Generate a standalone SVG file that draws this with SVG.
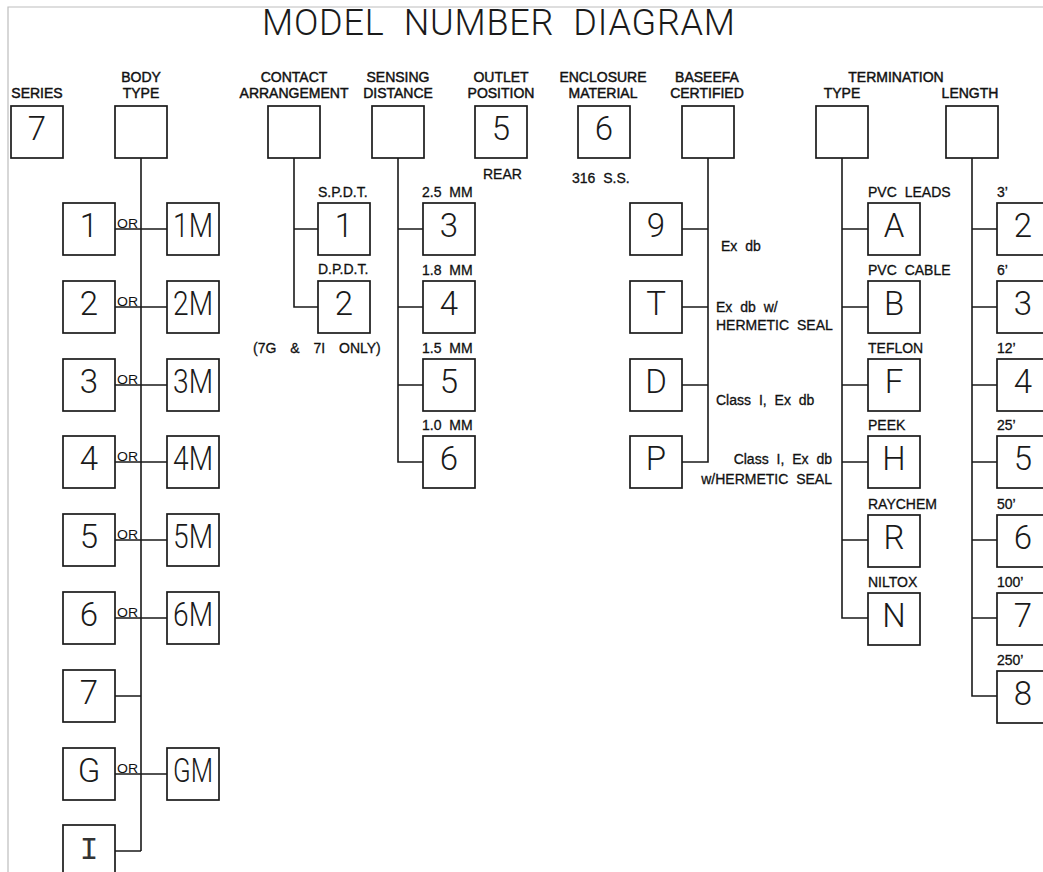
<svg xmlns="http://www.w3.org/2000/svg" width="1043" height="872" viewBox="0 0 1043 872">
<style>
.bx{fill:#fff;stroke:#1a1a1a;stroke-width:1.7}
.ln{fill:none;stroke:#1a1a1a;stroke-width:1.6}
.fr{fill:none;stroke:#bdbdbd;stroke-width:1.2}
.big{font-family:Roboto,"Liberation Sans",sans-serif;font-weight:300;font-size:33px;fill:#1a1a1a;text-anchor:middle}
.ttl{font-family:Roboto,"Liberation Sans",sans-serif;font-weight:300;font-size:36px;fill:#1a1a1a}
.hd{font-family:"Liberation Sans",Arial,sans-serif;font-size:14px;fill:#111;text-anchor:middle;stroke:#111;stroke-width:0.45}
.lb{font-family:"Liberation Sans",Arial,sans-serif;font-size:14px;fill:#111;word-spacing:4px;stroke:#111;stroke-width:0.3}
.or{font-family:"Liberation Sans",Arial,sans-serif;font-size:12.5px;fill:#111}
.ser{font-family:"Liberation Mono",monospace;font-weight:normal;font-size:31px;fill:#333}
</style>
<rect x="0" y="0" width="1043" height="872" fill="#fff"/>
<path class="fr" d="M8,872 V7 H1043"/>
<text class="ttl" x="262" y="35" textLength="473" lengthAdjust="spacing" xml:space="preserve">MODEL  NUMBER  DIAGRAM</text>

<g id="connectors">
<path class="ln" d="M141,158 V851 M115,229 H167 M115,307 H167 M115,385 H167 M115,462 H167 M115,540 H167 M115,618 H167 M115,696 H141 M115,774 H167 M115,851 H141"/>
<path class="ln" d="M294,158 V307 H318 M294,229 H318"/>
<path class="ln" d="M398,158 V462 H423 M398,229 H423 M398,307 H423 M398,385 H423"/>
<path class="ln" d="M708,158 V462 H682 M708,229 H682 M708,307 H682 M708,385 H682"/>
<path class="ln" d="M842,158 V618 H868 M842,229 H868 M842,307 H868 M842,385 H868 M842,462 H868 M842,540 H868"/>
<path class="ln" d="M972,158 V696 H997 M972,229 H997 M972,307 H997 M972,385 H997 M972,462 H997 M972,540 H997 M972,618 H997"/>
</g>

<g id="series">
<text class="hd" x="37" y="98">SERIES</text>
<rect class="bx" x="11" y="106" width="52" height="52"/>
<text class="big" x="37" y="140">7</text>
</g>
<g id="body-type">
<text class="hd" x="141" y="82">BODY</text>
<text class="hd" x="141" y="98">TYPE</text>
<rect class="bx" x="115" y="106" width="52" height="52"/>
</g>
<g id="contact-arrangement">
<text class="hd" x="294" y="82">CONTACT</text>
<text class="hd" x="294" y="98">ARRANGEMENT</text>
<rect class="bx" x="268" y="106" width="52" height="52"/>
</g>
<g id="sensing-distance">
<text class="hd" x="398" y="82">SENSING</text>
<text class="hd" x="398" y="98">DISTANCE</text>
<rect class="bx" x="372" y="106" width="52" height="52"/>
</g>
<g id="outlet-position">
<text class="hd" x="501" y="82">OUTLET</text>
<text class="hd" x="501" y="98">POSITION</text>
<rect class="bx" x="475" y="106" width="52" height="52"/>
<text class="big" x="501" y="140">5</text>
<text class="lb" x="483" y="179">REAR</text>
</g>
<g id="enclosure-material">
<text class="hd" x="603" y="82">ENCLOSURE</text>
<text class="hd" x="603" y="98">MATERIAL</text>
<rect class="bx" x="578" y="106" width="52" height="52"/>
<text class="big" x="604" y="140">6</text>
<text class="lb" x="572" y="183">316 S.S.</text>
</g>
<g id="baseefa-certified">
<text class="hd" x="707" y="82">BASEEFA</text>
<text class="hd" x="707" y="98">CERTIFIED</text>
<rect class="bx" x="682" y="106" width="52" height="52"/>
</g>
<g id="termination-type">
<text class="hd" x="896" y="82">TERMINATION</text>
<text class="hd" x="842" y="98">TYPE</text>
<rect class="bx" x="816" y="106" width="52" height="52"/>
</g>
<g id="length">
<text class="hd" x="970" y="98">LENGTH</text>
<rect class="bx" x="946" y="106" width="52" height="52"/>
</g>

<g id="body-options">
<g id="body-1"><rect class="bx" x="63" y="203" width="52" height="52"/><text class="big" x="89" y="237">1</text></g>
<g id="body-1M"><rect class="bx" x="167" y="203" width="52" height="52"/><text class="big" x="193" y="237" textLength="40" lengthAdjust="spacingAndGlyphs">1M</text></g>
<text class="or" x="117" y="228" textLength="21" lengthAdjust="spacingAndGlyphs">OR</text>
<g id="body-2"><rect class="bx" x="63" y="281" width="52" height="52"/><text class="big" x="89" y="315">2</text></g>
<g id="body-2M"><rect class="bx" x="167" y="281" width="52" height="52"/><text class="big" x="193" y="315" textLength="40" lengthAdjust="spacingAndGlyphs">2M</text></g>
<text class="or" x="117" y="306" textLength="21" lengthAdjust="spacingAndGlyphs">OR</text>
<g id="body-3"><rect class="bx" x="63" y="359" width="52" height="52"/><text class="big" x="89" y="393">3</text></g>
<g id="body-3M"><rect class="bx" x="167" y="359" width="52" height="52"/><text class="big" x="193" y="393" textLength="40" lengthAdjust="spacingAndGlyphs">3M</text></g>
<text class="or" x="117" y="384" textLength="21" lengthAdjust="spacingAndGlyphs">OR</text>
<g id="body-4"><rect class="bx" x="63" y="436" width="52" height="52"/><text class="big" x="89" y="470">4</text></g>
<g id="body-4M"><rect class="bx" x="167" y="436" width="52" height="52"/><text class="big" x="193" y="470" textLength="40" lengthAdjust="spacingAndGlyphs">4M</text></g>
<text class="or" x="117" y="461" textLength="21" lengthAdjust="spacingAndGlyphs">OR</text>
<g id="body-5"><rect class="bx" x="63" y="514" width="52" height="52"/><text class="big" x="89" y="548">5</text></g>
<g id="body-5M"><rect class="bx" x="167" y="514" width="52" height="52"/><text class="big" x="193" y="548" textLength="40" lengthAdjust="spacingAndGlyphs">5M</text></g>
<text class="or" x="117" y="539" textLength="21" lengthAdjust="spacingAndGlyphs">OR</text>
<g id="body-6"><rect class="bx" x="63" y="592" width="52" height="52"/><text class="big" x="89" y="626">6</text></g>
<g id="body-6M"><rect class="bx" x="167" y="592" width="52" height="52"/><text class="big" x="193" y="626" textLength="40" lengthAdjust="spacingAndGlyphs">6M</text></g>
<text class="or" x="117" y="617" textLength="21" lengthAdjust="spacingAndGlyphs">OR</text>
<g id="body-7"><rect class="bx" x="63" y="670" width="52" height="52"/><text class="big" x="89" y="704">7</text></g>
<g id="body-G"><rect class="bx" x="63" y="748" width="52" height="52"/><text class="big" x="89" y="782">G</text></g>
<g id="body-GM"><rect class="bx" x="167" y="748" width="52" height="52"/><text class="big" x="193" y="782" textLength="40" lengthAdjust="spacingAndGlyphs">GM</text></g>
<text class="or" x="117" y="773" textLength="21" lengthAdjust="spacingAndGlyphs">OR</text>
<g id="body-I"><rect class="bx" x="63" y="825" width="52" height="52"/><text class="big ser" x="89" y="859">I</text></g>
</g>

<g id="contact-options">
<g id="contact-1"><text class="lb" x="318" y="197">S.P.D.T.</text><rect class="bx" x="318" y="203" width="52" height="52"/><text class="big" x="344" y="237">1</text></g>
<g id="contact-2"><text class="lb" x="318" y="274">D.P.D.T.</text><rect class="bx" x="318" y="281" width="52" height="52"/><text class="big" x="344" y="315">2</text></g>
<text class="lb" x="253" y="353" style="word-spacing:10px">(7G &amp; 7I ONLY)</text>
</g>

<g id="sensing-options">
<g id="sensing-3"><text class="lb" x="422" y="197">2.5 MM</text><rect class="bx" x="423" y="203" width="52" height="52"/><text class="big" x="449" y="237">3</text></g>
<g id="sensing-4"><text class="lb" x="422" y="275">1.8 MM</text><rect class="bx" x="423" y="281" width="52" height="52"/><text class="big" x="449" y="315">4</text></g>
<g id="sensing-5"><text class="lb" x="422" y="353">1.5 MM</text><rect class="bx" x="423" y="359" width="52" height="52"/><text class="big" x="449" y="393">5</text></g>
<g id="sensing-6"><text class="lb" x="422" y="430">1.0 MM</text><rect class="bx" x="423" y="436" width="52" height="52"/><text class="big" x="449" y="470">6</text></g>
</g>

<g id="baseefa-options">
<g id="baseefa-9"><rect class="bx" x="630" y="203" width="52" height="52"/><text class="big" x="656" y="237">9</text><text class="lb" x="721" y="251">Ex db</text></g>
<g id="baseefa-T"><rect class="bx" x="630" y="281" width="52" height="52"/><text class="big" x="656" y="315">T</text><text class="lb" x="716" y="312">Ex db w/</text><text class="lb" x="716" y="330">HERMETIC SEAL</text></g>
<g id="baseefa-D"><rect class="bx" x="630" y="359" width="52" height="52"/><text class="big" x="656" y="393">D</text><text class="lb" x="716" y="405">Class I, Ex db</text></g>
<g id="baseefa-P"><rect class="bx" x="630" y="436" width="52" height="52"/><text class="big" x="656" y="470">P</text><text class="lb" x="832" y="464" text-anchor="end">Class I, Ex db</text><text class="lb" x="832" y="484" text-anchor="end">w/HERMETIC SEAL</text></g>
</g>

<g id="termination-options">
<g id="term-A"><text class="lb" x="868" y="197">PVC LEADS</text><rect class="bx" x="868" y="203" width="52" height="52"/><text class="big" x="894" y="237">A</text></g>
<g id="term-B"><text class="lb" x="868" y="275">PVC CABLE</text><rect class="bx" x="868" y="281" width="52" height="52"/><text class="big" x="894" y="315">B</text></g>
<g id="term-F"><text class="lb" x="868" y="353">TEFLON</text><rect class="bx" x="868" y="359" width="52" height="52"/><text class="big" x="894" y="393">F</text></g>
<g id="term-H"><text class="lb" x="868" y="430">PEEK</text><rect class="bx" x="868" y="436" width="52" height="52"/><text class="big" x="894" y="470">H</text></g>
<g id="term-R"><text class="lb" x="868" y="509">RAYCHEM</text><rect class="bx" x="868" y="515" width="52" height="52"/><text class="big" x="894" y="549">R</text></g>
<g id="term-N"><text class="lb" x="868" y="587">NILTOX</text><rect class="bx" x="868" y="593" width="52" height="52"/><text class="big" x="894" y="627">N</text></g>
</g>

<g id="length-options">
<g id="len-2"><text class="lb" x="997" y="197">3’</text><rect class="bx" x="997" y="203" width="52" height="52"/><text class="big" x="1023" y="237">2</text></g>
<g id="len-3"><text class="lb" x="997" y="275">6’</text><rect class="bx" x="997" y="281" width="52" height="52"/><text class="big" x="1023" y="315">3</text></g>
<g id="len-4"><text class="lb" x="997" y="353">12’</text><rect class="bx" x="997" y="359" width="52" height="52"/><text class="big" x="1023" y="393">4</text></g>
<g id="len-5"><text class="lb" x="997" y="430">25’</text><rect class="bx" x="997" y="436" width="52" height="52"/><text class="big" x="1023" y="470">5</text></g>
<g id="len-6"><text class="lb" x="997" y="509">50’</text><rect class="bx" x="997" y="515" width="52" height="52"/><text class="big" x="1023" y="549">6</text></g>
<g id="len-7"><text class="lb" x="997" y="587">100’</text><rect class="bx" x="997" y="593" width="52" height="52"/><text class="big" x="1023" y="627">7</text></g>
<g id="len-8"><text class="lb" x="997" y="665">250’</text><rect class="bx" x="997" y="671" width="52" height="52"/><text class="big" x="1023" y="705">8</text></g>
</g>
</svg>
